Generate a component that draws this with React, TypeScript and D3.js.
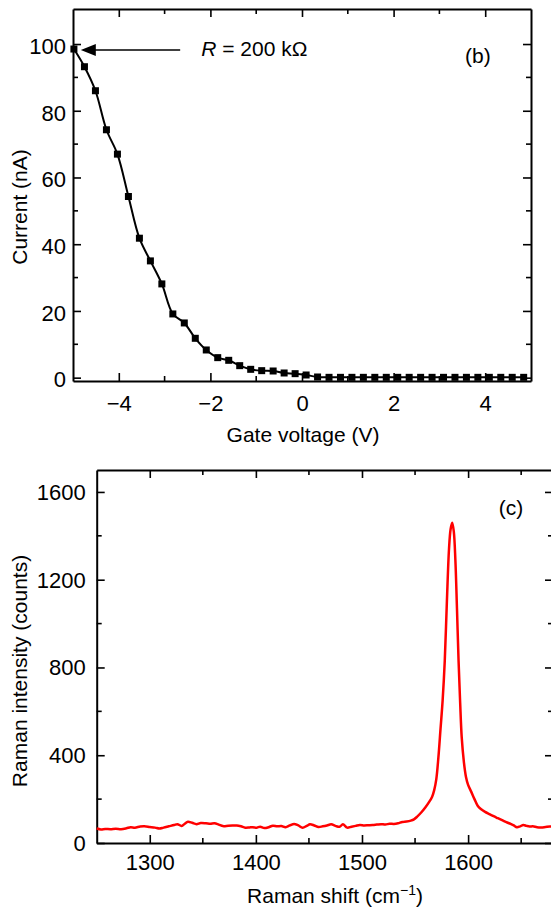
import React, { useEffect, useRef } from 'react';
import * as d3 from 'd3';

// panel (b): source-drain current vs gate voltage
const gateVoltage = [
  -4.98, -4.75, -4.51, -4.27, -4.03, -3.79, -3.55, -3.31, -3.06, -2.82,
  -2.57, -2.33, -2.09, -1.84, -1.6, -1.36, -1.12, -0.88, -0.63, -0.39,
  -0.15, 0.09, 0.34, 0.59, 0.84, 1.09, 1.34, 1.59, 1.84, 2.09,
  2.34, 2.59, 2.84, 3.09, 3.34, 3.59, 3.84, 4.09, 4.34, 4.59, 4.84
];
const current = [
  98.5, 93.2, 86.0, 74.3, 67.0, 54.3, 41.8, 35.0, 28.1, 19.1,
  16.4, 11.8, 8.3, 6.0, 5.2, 3.6, 2.5, 2.1, 2.0, 1.4,
  1.2, 0.8, 0.2, 0.1, 0.1, 0.1, 0.1, 0.1, 0.1, 0.1,
  0.1, 0.1, 0.1, 0.1, 0.1, 0.1, 0.1, 0.1, 0.1, 0.1, 0.1
];
const gateTicks = [-4, -2, 0, 2, 4];
const gateMinor = [-3, -1, 1, 3];
const currentTicks = [0, 20, 40, 60, 80, 100];
const currentMinor = [10, 30, 50, 70, 90];

// panel (c): Raman spectrum
const ramanShift = [
  1250, 1254, 1258, 1263, 1268, 1273, 1278, 1282, 1286, 1291,
  1295, 1300, 1305, 1309, 1313, 1318, 1323, 1326, 1330, 1333,
  1336, 1340, 1344, 1348, 1353, 1357, 1361, 1365, 1369, 1374,
  1378, 1382, 1386, 1390, 1394, 1397, 1401, 1404, 1408, 1412,
  1416, 1420, 1424, 1428, 1432, 1436, 1440, 1444, 1448, 1451,
  1455, 1459, 1463, 1467, 1471, 1475, 1479, 1482, 1486, 1490,
  1494, 1498, 1502, 1506, 1510, 1514, 1518, 1522, 1526, 1530,
  1534, 1538, 1542, 1546, 1549, 1552, 1556, 1560, 1563, 1566,
  1568, 1570, 1572, 1574, 1576, 1578, 1580, 1582, 1583.5, 1585,
  1586.5, 1588, 1589.5, 1591, 1592.5, 1594, 1596, 1598, 1600, 1603,
  1606, 1609, 1612, 1616, 1620, 1624, 1628, 1632, 1636, 1640,
  1643, 1646, 1649, 1652, 1655, 1658, 1661, 1665, 1669, 1673,
  1677, 1680
];
const ramanIntensity = [
  66, 62, 64, 63, 65, 63, 67, 72, 70, 75,
  76, 73, 70, 66, 70, 76, 82, 86, 78, 88,
  97, 92, 86, 91, 90, 88, 90, 84, 77, 79,
  80, 80, 76, 70, 71, 72, 70, 74, 68, 72,
  79, 76, 77, 72, 80, 87, 80, 70, 78, 85,
  80, 73, 76, 80, 85, 78, 74, 85, 70, 74,
  78, 82, 80, 81, 82, 84, 86, 84, 88, 87,
  90, 96, 98, 102, 108, 120, 140, 164, 185, 210,
  240, 290, 390, 520, 650, 830, 1100, 1340, 1430, 1460,
  1420, 1290, 1070, 832, 640, 480, 370, 301, 265, 233,
  200, 170, 155, 142, 132, 122, 113, 104, 95, 87,
  80, 72, 76, 82, 78, 75, 76, 72, 71, 73,
  75, 74
];
const shiftTicks = [1300, 1400, 1500, 1600];
const shiftMinor = [1350, 1450, 1550, 1650];
const countTicks = [0, 400, 800, 1200, 1600];
const countMinor = [200, 600, 1000, 1400];

const FONT = '"Liberation Sans", Arial, Helvetica, sans-serif';
const FS = 21;      // titles
const TICK_FS = 22; // tick labels

function frame(svg: any, x: any, y: any, xMajor: number[], xMinor: number[], yMajor: number[], yMinor: number[], xPad: number, yPad: number, yDy: string) {
  const [x0, x1] = x.range();
  const [y0, y1] = y.range();
  const fmt = d3.format('d');
  const g = svg.append('g');
  const style = (a: any) => {
    a.attr('font-family', FONT).attr('font-size', TICK_FS);
    a.select('.domain').attr('stroke', '#000').attr('stroke-width', 2);
    a.selectAll('.tick line').attr('stroke', '#000').attr('stroke-width', 1.6);
    a.selectAll('.tick text').attr('fill', '#000');
  };
  // major, labelled
  g.append('g').attr('transform', `translate(0,${y0})`)
    .call(d3.axisBottom(x).tickValues(xMajor).tickFormat(fmt).tickSizeInner(-8).tickSizeOuter(0).tickPadding(xPad))
    .call(style);
  g.append('g').attr('transform', `translate(${x0},0)`)
    .call(d3.axisLeft(y).tickValues(yMajor).tickFormat(fmt).tickSizeInner(-8).tickSizeOuter(0).tickPadding(yPad))
    .call(style)
    .call((a: any) => a.selectAll('.tick text').attr('dy', yDy));
  // mirrored top / right
  g.append('g').attr('transform', `translate(0,${y1})`)
    .call(d3.axisTop(x).tickValues(xMajor).tickSizeInner(-8).tickSizeOuter(0).tickFormat(() => ''))
    .call(style);
  g.append('g').attr('transform', `translate(${x1},0)`)
    .call(d3.axisRight(y).tickValues(yMajor).tickSizeInner(-8).tickSizeOuter(0).tickFormat(() => ''))
    .call(style);
  // minor ticks
  const minor = g.append('g').attr('stroke', '#000').attr('stroke-width', 1.6);
  xMinor.forEach(v => {
    minor.append('line').attr('x1', x(v)).attr('x2', x(v)).attr('y1', y0).attr('y2', y0 - 5);
    minor.append('line').attr('x1', x(v)).attr('x2', x(v)).attr('y1', y1).attr('y2', y1 + 5);
  });
  yMinor.forEach(v => {
    minor.append('line').attr('y1', y(v)).attr('y2', y(v)).attr('x1', x0).attr('x2', x0 + 5);
    minor.append('line').attr('y1', y(v)).attr('y2', y(v)).attr('x1', x1).attr('x2', x1 - 5);
  });
}

export default function App() {
  const ref = useRef<SVGSVGElement>(null);

  useEffect(() => {
    const svg = d3.select(ref.current);
    svg.selectAll('*').remove();

    // ---------- panel (b) ----------
    const xb = d3.scaleLinear().domain([-5, 5]).range([73, 531]);
    const yb = d3.scaleLinear().domain([-1, 110.5]).range([381, 9]);
    frame(svg, xb, yb, gateTicks, gateMinor, currentTicks, currentMinor, 14, 7, '0.42em');

    const pts = gateVoltage.map((v, i) => [v, current[i]] as [number, number]);
    const line = d3.line<[number, number]>()
      .x(d => xb(d[0])).y(d => yb(d[1]))
      .curve(d3.curveCatmullRom);
    svg.append('path').datum(pts)
      .attr('d', line).attr('fill', 'none').attr('stroke', '#000').attr('stroke-width', 2);
    svg.append('g').selectAll('rect').data(pts).join('rect')
      .attr('x', d => xb(d[0]) - 3.5).attr('y', d => yb(d[1]) - 3.5)
      .attr('width', 7).attr('height', 7).attr('fill', '#000');

    // arrow + annotation
    const ay = yb(98.2);
    const tip = xb(-4.83);
    svg.append('line').attr('x1', xb(-2.66)).attr('x2', tip + 10).attr('y1', ay).attr('y2', ay)
      .attr('stroke', '#000').attr('stroke-width', 1.5);
    svg.append('path')
      .attr('d', `M${tip},${ay} L${tip + 15},${ay - 6} L${tip + 15},${ay + 6} Z`)
      .attr('fill', '#000');
    const rt = svg.append('text').attr('x', xb(-2.2)).attr('y', yb(96.5))
      .attr('font-family', FONT).attr('font-size', FS).attr('fill', '#000');
    rt.append('tspan').attr('font-style', 'italic').text('R');
    rt.append('tspan').text(' = 200 kΩ');
    svg.append('text').attr('x', xb(3.84)).attr('y', yb(94.3)).attr('text-anchor', 'middle')
      .attr('font-family', FONT).attr('font-size', FS).text('(b)');

    svg.append('text').attr('x', 303).attr('y', 442).attr('text-anchor', 'middle')
      .attr('font-family', FONT).attr('font-size', FS).text('Gate voltage (V)');
    svg.append('text').attr('transform', 'translate(27,207) rotate(-90)').attr('text-anchor', 'middle')
      .attr('font-family', FONT).attr('font-size', FS).text('Current (nA)');

    // ---------- panel (c) ----------
    const xc = d3.scaleLinear().domain([1250, 1680]).range([96.7, 553]);
    const yc = d3.scaleLinear().domain([0, 1700]).range([843, 470]);
    frame(svg, xc, yc, shiftTicks, shiftMinor, countTicks, countMinor, 11, 11, '0.34em');

    const spec = ramanShift.map((v, i) => [v, ramanIntensity[i]] as [number, number]);
    const sline = d3.line<[number, number]>()
      .x(d => xc(d[0])).y(d => yc(d[1]))
      .curve(d3.curveCatmullRom);
    svg.append('path').datum(spec)
      .attr('d', sline).attr('fill', 'none').attr('stroke', '#ff0000').attr('stroke-width', 2.5)
      .attr('stroke-linejoin', 'round');

    svg.append('text').attr('x', xc(1640.4)).attr('y', yc(1495)).attr('text-anchor', 'middle')
      .attr('font-family', FONT).attr('font-size', FS).text('(c)');

    const xt = svg.append('text').attr('x', 335).attr('y', 903).attr('text-anchor', 'middle')
      .attr('font-family', FONT).attr('font-size', FS);
    xt.append('tspan').text('Raman shift (cm');
    xt.append('tspan').attr('dy', -8).attr('font-size', 14).text('−1');
    xt.append('tspan').attr('dy', 8).text(')');
    svg.append('text').attr('transform', 'translate(27,671) rotate(-90)').attr('text-anchor', 'middle')
      .attr('font-family', FONT).attr('font-size', FS).text('Raman intensity (counts)');
  }, []);

  return (
    <svg ref={ref} width={551} height={911}
      style={{ position: 'absolute', left: 0, top: 0, background: '#fff', display: 'block' }} />
  );
}
